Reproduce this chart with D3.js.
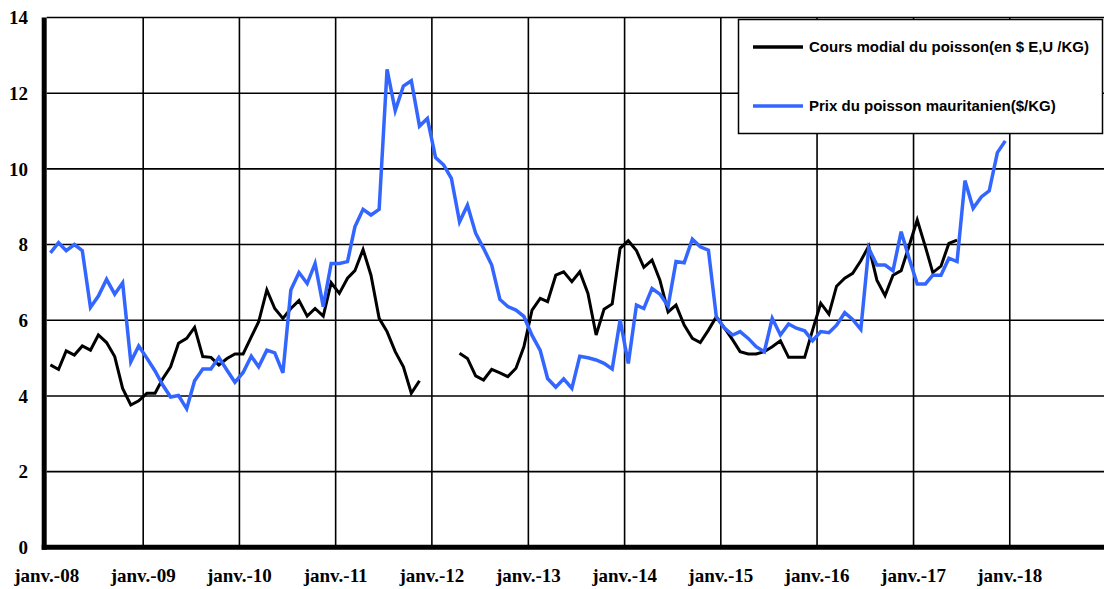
<!DOCTYPE html>
<html>
<head>
<meta charset="utf-8">
<script src="https://cdn.jsdelivr.net/npm/d3@7"></script>
<style>
  body { margin: 0; background: #fff; }
  svg { display: block; }
</style>
</head>
<body>
<script>
// monthly values, janv. 2008 -> dec. 2017
var startYear = 2008;

var coursModial = [
  4.82, 4.70, 5.19, 5.08, 5.32, 5.21, 5.61, 5.41, 5.04, 4.20, 3.76, 3.87,
  4.07, 4.07, 4.44, 4.77, 5.39, 5.52, 5.81, 5.04, 5.02, 4.82, 4.99, 5.11,
  5.11, 5.56, 5.96, 6.80, 6.31, 6.05, 6.31, 6.52, 6.11, 6.31, 6.11, 6.99,
  6.71, 7.11, 7.31, 7.87, 7.19, 6.05, 5.70, 5.17, 4.77, 4.07, 4.40, null,
  null, null, null, 5.13, 4.99, 4.53, 4.42, 4.70, 4.61, 4.51, 4.73, 5.30,
  6.27, 6.58, 6.49, 7.19, 7.28, 7.02, 7.28, 6.71, 5.61, 6.29, 6.43, 7.90,
  8.10, 7.84, 7.40, 7.59, 7.06, 6.22, 6.40, 5.87, 5.52, 5.41, 5.74, 6.09,
  5.79, 5.48, 5.17, 5.11, 5.11, 5.17, 5.30, 5.46, 5.02, 5.02, 5.02, 5.74,
  6.45, 6.16, 6.90, 7.11, 7.24, 7.57, 7.96, 7.06, 6.65, 7.19, 7.31, 7.96,
  8.65, 7.94, 7.26, 7.43, 8.03, 8.12, null, null, null, null, null, null
];

var prixMauritanien = [
  7.78, 8.05, 7.84, 8.00, 7.84, 6.34, 6.64, 7.08, 6.69, 6.99, 4.90, 5.32,
  5.00, 4.66, 4.30, 3.97, 4.01, 3.66, 4.40, 4.71, 4.71, 5.02, 4.68, 4.36,
  4.62, 5.05, 4.77, 5.21, 5.14, 4.61, 6.80, 7.26, 6.97, 7.50, 6.36, 7.50,
  7.50, 7.55, 8.47, 8.93, 8.78, 8.93, 12.63, 11.54, 12.19, 12.33, 11.13, 11.33,
  10.30, 10.10, 9.75, 8.60, 9.04, 8.30, 7.90, 7.46, 6.55, 6.36, 6.27, 6.10,
  5.60, 5.20, 4.46, 4.23, 4.45, 4.20, 5.05, 5.01, 4.95, 4.86, 4.71, 6.01,
  4.86, 6.40, 6.31, 6.84, 6.69, 6.37, 7.55, 7.52, 8.14, 7.94, 7.85, 6.09,
  5.79, 5.61, 5.70, 5.52, 5.30, 5.17, 6.05, 5.61, 5.90, 5.79, 5.72, 5.46,
  5.70, 5.67, 5.87, 6.20, 6.02, 5.76, 7.90, 7.46, 7.46, 7.31, 8.34, 7.64,
  6.96, 6.96, 7.19, 7.19, 7.64, 7.55, 9.69, 8.96, 9.26, 9.42, 10.43, 10.74
];

var yearLabels = ["janv.-08", "janv.-09", "janv.-10", "janv.-11", "janv.-12", "janv.-13",
  "janv.-14", "janv.-15", "janv.-16", "janv.-17", "janv.-18"];
var yTicks = [0, 2, 4, 6, 8, 10, 12, 14];

var seriesNames = ["Cours modial du poisson(en $ E,U /KG)", "Prix du poisson mauritanien($/KG)"];
var seriesColors = ["#000000", "#3366ff"];

var w = 1104;
var h = 589;

var svg = d3.select("body")
  .append("svg")
  .attr("width", w)
  .attr("height", h);

var x = d3.scaleTime()
  .domain([new Date(startYear, 0, 1), new Date(startYear + 11, 0, 1)])
  .range([46.7, 1106]);

var y = d3.scaleLinear()
  .domain([0, 14])
  .range([547.3, 17.5]);

var yearDates = yearLabels.map(function (d, i) {
  return new Date(startYear + i, 0, 1);
});

// horizontal gridlines
svg.append("g")
  .selectAll("line")
  .data(yTicks.filter(function (d) { return d > 0; }))
  .enter()
  .append("line")
  .attr("x1", x.range()[0])
  .attr("x2", w)
  .attr("y1", function (d) { return y(d); })
  .attr("y2", function (d) { return y(d); })
  .attr("stroke", "#000")
  .attr("stroke-width", 1.6);

// vertical gridlines
svg.append("g")
  .selectAll("line")
  .data(yearDates.slice(1))
  .enter()
  .append("line")
  .attr("x1", function (d) { return x(d); })
  .attr("x2", function (d) { return x(d); })
  .attr("y1", y(14))
  .attr("y2", y(0))
  .attr("stroke", "#000")
  .attr("stroke-width", 1.6);

// the two series
function monthDate(i) {
  return new Date(startYear, i, 15);
}

var line = d3.line()
  .defined(function (d) { return d != null; })
  .x(function (d, i) { return x(monthDate(i)); })
  .y(function (d) { return y(d); });

svg.append("path")
  .datum(coursModial)
  .attr("fill", "none")
  .attr("stroke", seriesColors[0])
  .attr("stroke-width", 3)
  .attr("stroke-linejoin", "miter")
  .attr("d", line);

svg.append("path")
  .datum(prixMauritanien)
  .attr("fill", "none")
  .attr("stroke", seriesColors[1])
  .attr("stroke-width", 3.5)
  .attr("stroke-linejoin", "miter")
  .attr("d", line);

// axes (thick black)
svg.append("line")
  .attr("x1", x.range()[0] - 2.5)
  .attr("x2", x.range()[0] - 2.5)
  .attr("y1", y(14))
  .attr("y2", y(0) + 2.5)
  .attr("stroke", "#000")
  .attr("stroke-width", 5);

svg.append("line")
  .attr("x1", x.range()[0] - 5)
  .attr("x2", w)
  .attr("y1", y(0))
  .attr("y2", y(0))
  .attr("stroke", "#000")
  .attr("stroke-width", 5);

// tick labels
svg.append("g")
  .selectAll("text")
  .data(yTicks)
  .enter()
  .append("text")
  .attr("x", 28)
  .attr("y", function (d) { return y(d); })
  .attr("dy", "0.35em")
  .attr("text-anchor", "end")
  .attr("font-family", "'Liberation Serif', 'Times New Roman', serif")
  .attr("font-weight", "bold")
  .attr("font-size", 19)
  .text(function (d) { return d; });

svg.append("g")
  .selectAll("text")
  .data(yearLabels)
  .enter()
  .append("text")
  .attr("x", function (d, i) { return x(yearDates[i]); })
  .attr("y", 582)
  .attr("text-anchor", "middle")
  .attr("font-family", "'Liberation Serif', 'Times New Roman', serif")
  .attr("font-weight", "bold")
  .attr("font-size", 19)
  .text(function (d) { return d; });

// legend
var legend = svg.append("g");

legend.append("rect")
  .attr("x", 738.5)
  .attr("y", 19.5)
  .attr("width", 364)
  .attr("height", 114)
  .attr("fill", "#fff")
  .attr("stroke", "#000")
  .attr("stroke-width", 1.5);

var legendRows = [47, 106];

legend.selectAll("line")
  .data(seriesNames)
  .enter()
  .append("line")
  .attr("x1", 753)
  .attr("x2", 803)
  .attr("y1", function (d, i) { return legendRows[i]; })
  .attr("y2", function (d, i) { return legendRows[i]; })
  .attr("stroke", function (d, i) { return seriesColors[i]; })
  .attr("stroke-width", 3.5);

legend.selectAll("text")
  .data(seriesNames)
  .enter()
  .append("text")
  .attr("x", 809)
  .attr("y", function (d, i) { return legendRows[i]; })
  .attr("dy", "0.36em")
  .attr("font-family", "'Liberation Sans', Arial, sans-serif")
  .attr("font-weight", "bold")
  .attr("font-size", 15)
  .text(function (d) { return d; });
</script>
</body>
</html>
